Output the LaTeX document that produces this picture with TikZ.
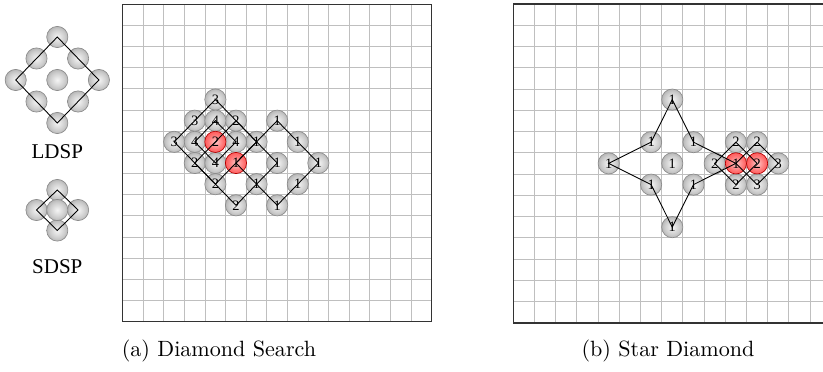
\documentclass[tikz,border=0pt]{standalone}
\usepackage{fontspec}
\newfontfamily\figfont{Liberation Serif}

\pgfdeclareradialshading{greyball}{\pgfpoint{0bp}{0bp}}{color(0bp)=(black!4); color(18bp)=(black!20); color(42bp)=(black!48); color(50bp)=(black!62)}
\pgfdeclareradialshading{redball}{\pgfpoint{0bp}{0bp}}{color(0bp)=(red!22); color(18bp)=(red!55); color(42bp)=(red!85); color(50bp)=(red!85!black)}

\tikzset{
  ball/.style={circle, minimum size=9.6pt, inner sep=0pt, shading=greyball, draw=black!45, line width=0.3pt, font=\figfont\fontsize{6.5}{7}\selectfont},
  bestball/.style={ball, shading=redball, draw=red!70!black},
  gridline/.style={black!25, line width=0.45pt},
  frame/.style={black!80, line width=0.7pt},
  pattern/.style={black, line width=0.4pt},
  patname/.style={font=\figfont\fontsize{9.5}{11}\selectfont}
}

\begin{document}
\begin{tikzpicture}[x=0.4525pt, y=-0.4525pt]
  \useasboundingbox (0,0) rectangle (823,372);

  % Large diamond pattern (LDSP)
  \node[ball] (l-t) at (57.3,37) {};
  \node[ball] (l-ul) at (36.5,58.5) {};
  \node[ball] (l-ur) at (78.1,58.5) {};
  \node[ball] (l-l) at (15.7,80) {};
  \node[ball] (l-c) at (57.3,80) {};
  \node[ball] (l-r) at (98.9,80) {};
  \node[ball] (l-ll) at (36.5,101.5) {};
  \node[ball] (l-lr) at (78.1,101.5) {};
  \node[ball] (l-b) at (57.3,123) {};
  \draw[pattern] (l-t.center) -- (l-r.center) -- (l-b.center) -- (l-l.center) -- cycle;
  \node[patname] (ldsp) at (57.3,152) {LDSP};

  % Small diamond pattern (SDSP)
  \node[ball] (s-t) at (57.3,190) {};
  \node[ball] (s-l) at (36.5,210) {};
  \node[ball] (s-r) at (78.1,210) {};
  \node[ball] (s-b) at (57.3,230.5) {};
  \node[ball] (s-c) at (57.3,210) {};
  \draw[pattern] (s-t.center) -- (s-r.center) -- (s-b.center) -- (s-l.center) -- cycle;
  \node[patname] (sdsp) at (57.3,267) {SDSP};

  % (a) Diamond search
  \begin{scope}[shift={(122.7,4.3)}, x=9.32pt, y=-9.575pt]
    \foreach \i in {1,...,14} {
      \draw[gridline] (\i,0) -- (\i,15);
      \draw[gridline] (0,\i) -- (15,\i);
    }
    \draw[frame] (0,0) rectangle (15,15);

    \foreach \c/\r/\s in {7/5/1, 6/6/1, 8/6/1, 9/7/1, 7/7/1, 6/8/1, 8/8/1, 7/9/1,
                          5/5/2, 3/7/2, 4/8/2, 5/9/2,
                          4/4/3, 3/5/3, 2/6/3,
                          4/5/4, 3/6/4, 5/6/4, 4/7/4}
      \node[ball] (a-\c-\r) at (\c+0.5,\r+0.5) {\s};
    \node[bestball] (a-5-7) at (5.5,7.5) {1};
    \node[bestball] (a-4-6) at (4.5,6.5) {2};

    \draw[pattern] (a-7-5.center) -- (a-9-7.center) -- (a-7-9.center) -- (a-5-7.center) -- cycle;
    \draw[pattern] (a-5-5.center) -- (a-7-7.center) -- (a-5-9.center) -- (a-3-7.center) -- cycle;
    \draw[pattern] (a-4-4.center) -- (a-6-6.center) -- (a-4-8.center) -- (a-2-6.center) -- cycle;
    \draw[pattern] (a-4-5.center) -- (a-5-6.center) -- (a-4-7.center) -- (a-3-6.center) -- cycle;
  \end{scope}
  \node[anchor=base] (capa) at (219,357) {(a) Diamond Search};

  % (b) Star diamond
  \begin{scope}[shift={(513.3,4)}, x=9.593pt, y=-9.616pt]
    \foreach \i in {1,...,14} {
      \draw[gridline] (\i,0) -- (\i,15);
      \draw[gridline] (0,\i) -- (15,\i);
    }
    \draw[frame] (0,0) rectangle (15,15);

    \foreach \c/\r/\s in {7/4/1, 6/6/1, 8/6/1, 4/7/1, 7/7/1, 6/8/1, 8/8/1, 7/10/1,
                          10/6/2, 11/6/2, 9/7/2, 10/8/2, 12/7/3, 11/8/3}
      \node[ball] (b-\c-\r) at (\c+0.5,\r+0.5) {\s};
    \node[bestball] (b-10-7) at (10.5,7.5) {1};
    \node[bestball] (b-11-7) at (11.5,7.5) {2};

    \draw[pattern] (b-7-4.center) -- (b-8-6.center) -- (b-10-7.center) -- (b-8-8.center)
      -- (b-7-10.center) -- (b-6-8.center) -- (b-4-7.center) -- (b-6-6.center) -- cycle;
    \draw[pattern] (b-10-6.center) -- (b-11-7.center) -- (b-10-8.center) -- (b-9-7.center) -- cycle;
    \draw[pattern] (b-11-6.center) -- (b-12-7.center) -- (b-11-8.center) -- (b-10-7.center) -- cycle;
  \end{scope}
  \node[anchor=base] (capb) at (668,357) {(b) Star Diamond};
\end{tikzpicture}
\end{document}
